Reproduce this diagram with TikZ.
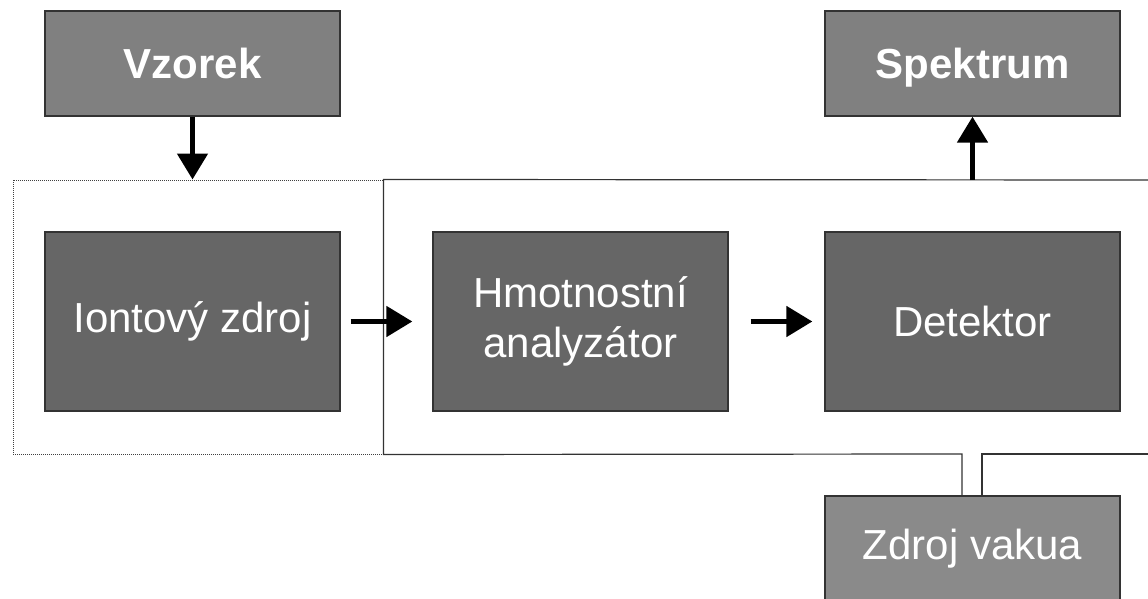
\documentclass[tikz,border=0pt]{standalone}
\usepackage{fontspec}
\setmainfont{Liberation Sans}
\usetikzlibrary{arrows.meta,positioning}
\definecolor{boxdark}{HTML}{666666}
\definecolor{boxmid}{HTML}{808080}
\definecolor{boxlight}{HTML}{8A8A8A}
\definecolor{frameline}{HTML}{333333}
\begin{document}
\begin{tikzpicture}[x=1pt,y=-1pt,
  blockbase/.style={rectangle, draw=frameline, line width=1.3pt, text=white,
    minimum width=295pt, minimum height=179pt, inner sep=0pt, align=center,
    font=\fontsize{42}{50}\selectfont},
  mainblock/.style={blockbase, fill=boxdark},
  topblock/.style={blockbase, fill=boxmid, minimum height=105pt,
    text height=30pt, text depth=0pt,
    font=\fontsize{42}{50}\selectfont\bfseries},
  vacblock/.style={blockbase, fill=boxlight, minimum height=105pt},
  flow/.style={line width=5pt, -{Triangle[width=30pt,length=26pt]}},
  housing/.style={line width=1.2pt, draw=frameline},
  dottedbox/.style={rectangle, draw=black!75, line width=1pt, densely dotted, inner sep=0pt,
    minimum width=370pt, minimum height=274pt}]
\useasboundingbox (0,0) rectangle (1148,599);
% boxes
\node[topblock] (vz) at (192.5,63.5) {Vzorek};
\node[topblock] (sp) at (972.5,63.5) {Spektrum};
\node[dottedbox] (ms) at (198,317) {};
\node[mainblock] (ion) at (192.5,321.5) {Iontový zdroj};
\node[mainblock] (hm) at (580.5,321.5) {Hmotnostní\\analyzátor};
\node[mainblock] (det) at (972.5,321.5) {Detektor};
\node[vacblock] (vac) at (972.5,548.5) {Zdroj vakua};
% solid housing
\coordinate (hTR) at (1160,180);
\coordinate (hBR) at (1160,454);
\coordinate (pL) at (962,454);
\coordinate (pR) at (982,454);
\draw[housing] (hTR) -- (ms.north east) -- (ms.south east) -- (pL) -- (pL |- vac.north);
\draw[housing] (pR |- vac.north) -- (pR) -- (hBR);
% connectors
\draw[flow] (vz.south) -- (vz.south |- ms.north);
\draw[flow] (det.north |- hTR) -- (sp.south);
\draw[flow, shorten <=10pt, shorten >=20pt] (ion.east) -- (hm.west);
\draw[flow, shorten <=22pt, shorten >=12pt] (hm.east) -- (det.west);
\end{tikzpicture}
\end{document}
